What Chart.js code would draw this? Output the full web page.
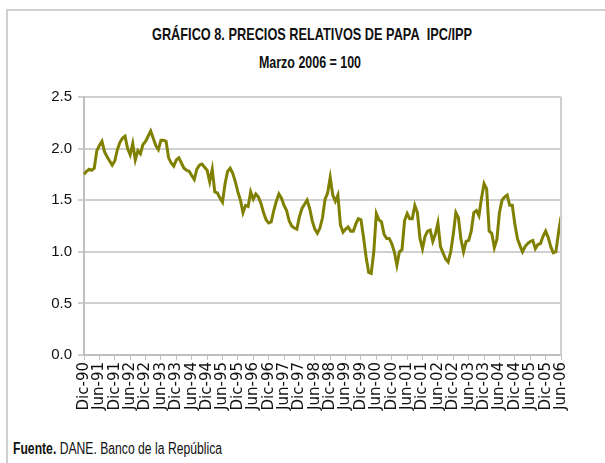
<!DOCTYPE html>
<html>
<head>
<meta charset="utf-8">
<script src="https://cdn.jsdelivr.net/npm/chart.js@4"></script>
<style>
  body { margin: 0; background: #fff; }
  #wrap { position: relative; width: 605px; height: 463px; overflow: hidden; }
  #frame { position: absolute; left: 6px; top: 9px; width: 640px; height: 480px; border: 2px solid #cfcfcf; box-sizing: border-box; }
  .txt { position: absolute; font-family: 'Liberation Sans', Arial, sans-serif; color: #111; white-space: nowrap; }
  #title { top: 25px; font-size: 17px; font-weight: bold; transform-origin: 0 50%; }
  #sub { top: 54px; font-size: 16px; font-weight: bold; transform-origin: 0 50%; }
  #note { left: 13px; top: 440px; font-size: 16px; transform-origin: 0 50%; }
  canvas { position: absolute; left: 0; top: 0; }
</style>
</head>
<body>
<div id="wrap">
  <div id="frame"></div>
  <div class="txt" id="title">GRÁFICO 8. PRECIOS RELATIVOS DE PAPA&nbsp;&nbsp;IPC/IPP</div>
  <div class="txt" id="sub">Marzo 2006 = 100</div>
  <div class="txt" id="note"><b>Fuente.</b> DANE. Banco de la República</div>
  <canvas id="chart" width="605" height="463"></canvas>
</div>
<script>
const monthNames = ['Ene', 'Feb', 'Mar', 'Abr', 'May', 'Jun', 'Jul', 'Ago', 'Sep', 'Oct', 'Nov', 'Dic'];
const yTicks = [0, 0.5, 1.0, 1.5, 2.0, 2.5];

// monthly relative price, Dic-90 .. Jun-06
const relPrice = [
  1.75,
  1.78, 1.80, 1.79, 1.81, 1.98, 2.03, 2.07, 1.97, 1.92, 1.88, 1.84, 1.88, // 1991
  1.99, 2.06, 2.10, 2.12, 2.00, 1.94, 2.05, 1.89, 1.98, 1.95, 2.04, 2.07, // 1992
  2.12, 2.17, 2.10, 2.03, 1.99, 2.08, 2.08, 2.07, 1.91, 1.86, 1.83, 1.89, // 1993
  1.91, 1.86, 1.81, 1.79, 1.78, 1.74, 1.70, 1.80, 1.84, 1.85, 1.82, 1.79, // 1994
  1.68, 1.80, 1.58, 1.57, 1.52, 1.48, 1.66, 1.78, 1.81, 1.76, 1.68, 1.58, // 1995
  1.50, 1.38, 1.45, 1.44, 1.58, 1.51, 1.56, 1.53, 1.47, 1.38, 1.31, 1.28, // 1996
  1.29, 1.40, 1.49, 1.56, 1.52, 1.45, 1.40, 1.30, 1.25, 1.23, 1.22, 1.34, // 1997
  1.42, 1.46, 1.50, 1.42, 1.30, 1.22, 1.18, 1.23, 1.33, 1.51, 1.57, 1.72, // 1998
  1.55, 1.49, 1.55, 1.26, 1.19, 1.22, 1.24, 1.20, 1.20, 1.27, 1.32, 1.31, // 1999
  1.14, 0.95, 0.80, 0.79, 1.00, 1.37, 1.31, 1.29, 1.17, 1.13, 1.13, 1.08, // 2000
  1.00, 0.87, 1.00, 1.02, 1.30, 1.37, 1.32, 1.32, 1.45, 1.38, 1.13, 1.03, // 2001
  1.15, 1.20, 1.21, 1.10, 1.17, 1.28, 1.05, 0.99, 0.93, 0.90, 1.00, 1.17, // 2002
  1.38, 1.33, 1.12, 1.00, 1.10, 1.11, 1.20, 1.38, 1.40, 1.35, 1.52, 1.66, // 2003
  1.61, 1.20, 1.18, 1.04, 1.12, 1.38, 1.50, 1.53, 1.55, 1.45, 1.45, 1.27, // 2004
  1.13, 1.06, 1.00, 1.05, 1.08, 1.10, 1.11, 1.03, 1.07, 1.08, 1.15, 1.20, // 2005
  1.14, 1.05, 0.99, 1.00, 1.18, 1.34 // 2006
];

// month labels Dic-90 .. Jun-06
const months = [];
for (let k = 0; k < relPrice.length; k++) {
  const m = (11 + k) % 12;
  const y = 1990 + Math.floor((11 + k) / 12);
  months.push(monthNames[m] + '-' + String(y).slice(2));
}
const isTick = i => i % 6 === 0;

// squeeze the html texts to the narrow look of the original
function fitText(id, left, width) {
  const el = document.getElementById(id);
  const w = el.getBoundingClientRect().width;
  el.style.left = left + 'px';
  el.style.transform = 'scaleX(' + (width / w) + ')';
}
fitText('title', 152, 320);
fitText('sub', 259, 102);
fitText('note', 13, 209);

// right edge of the plot box
const boxRight = {
  id: 'boxRight',
  afterDraw(chart) {
    const { ctx, chartArea } = chart;
    ctx.save();
    ctx.strokeStyle = '#cfcfcf';
    ctx.lineWidth = 2;
    ctx.beginPath();
    ctx.moveTo(chartArea.right, chartArea.top);
    ctx.lineTo(chartArea.right, chartArea.bottom);
    ctx.stroke();
    ctx.restore();
  },
};

new Chart(document.getElementById('chart'), {
  type: 'line',
  data: {
    labels: months,
    datasets: [{
      data: relPrice,
      borderColor: '#808000',
      borderWidth: 3,
      pointRadius: 0,
      tension: 0,
      fill: false,
    }],
  },
  options: {
    responsive: false,
    devicePixelRatio: 1,
    animation: false,
    layout: { padding: { left: 0, top: 97, right: 44, bottom: 0 } },
    plugins: { legend: { display: false }, tooltip: { enabled: false } },
    scales: {
      x: {
        offset: false,
        afterFit: s => { s.height = 108; },
        grid: {
          drawOnChartArea: false,
          tickLength: 5,
          color: c => (isTick(c.index) ? '#bfbfbf' : 'rgba(0,0,0,0)'),
        },
        border: { color: '#bfbfbf', width: 2 },
        ticks: {
          autoSkip: false,
          minRotation: 90,
          maxRotation: 90,
          padding: 2,
          color: '#111',
          font: { family: "'DejaVu Sans', sans-serif", size: 15 },
          callback: (v, i) => (isTick(i) ? months[i] : ''),
        },
      },
      y: {
        min: 0,
        max: 2.5,
        afterFit: s => { s.width = 84; },
        afterBuildTicks: s => { s.ticks = yTicks.map(v => ({ value: v })); },
        grid: { color: '#cfcfcf', lineWidth: 2, tickLength: 6 },
        border: { color: '#bfbfbf', width: 2 },
        ticks: {
          padding: 6,
          color: '#111',
          font: { family: "'Liberation Sans', Arial, sans-serif", size: 15 },
          callback: v => v.toFixed(1),
        },
      },
    },
  },
  plugins: [boxRight],
});
</script>
</body>
</html>
